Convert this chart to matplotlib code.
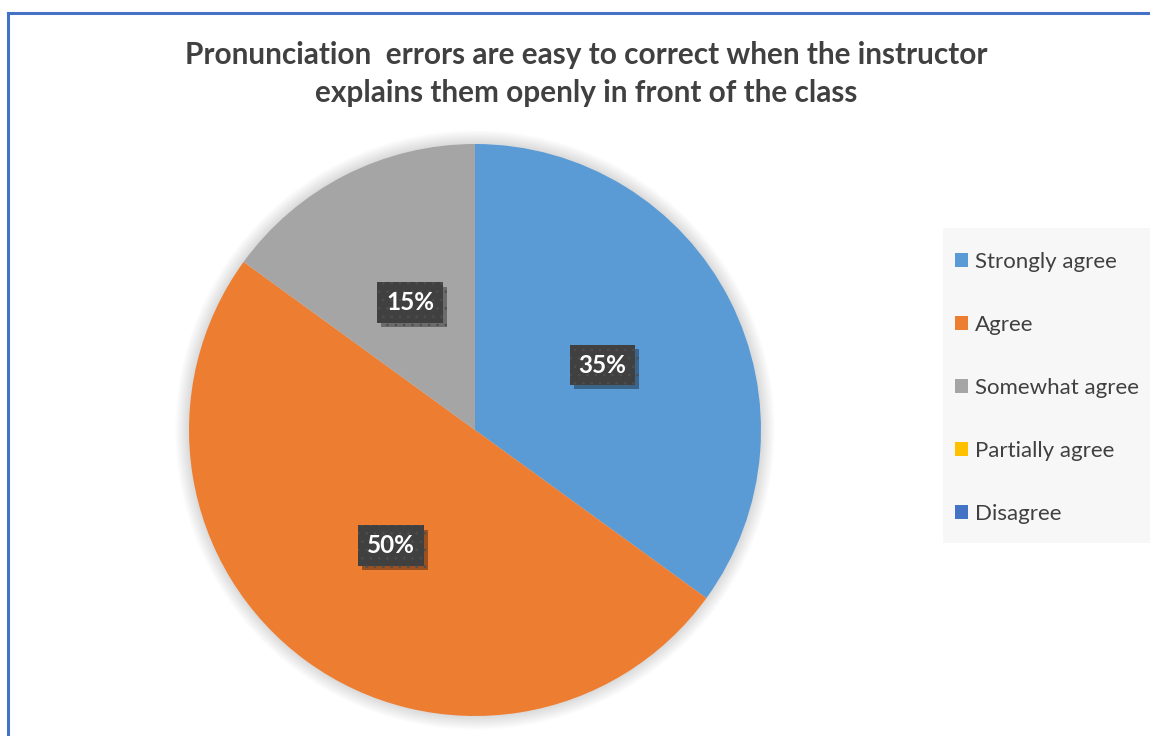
import matplotlib
matplotlib.use("Agg")
import matplotlib.pyplot as plt
from matplotlib.lines import Line2D
from matplotlib.patches import Circle, Rectangle
import matplotlib.patheffects as pe

# Survey responses (share of students)
categories = ["Strongly agree", "Agree", "Somewhat agree", "Partially agree", "Disagree"]
shares = [35, 50, 15, 0, 0]
colors = ["#5B9BD5", "#ED7D31", "#A5A5A5", "#FFC000", "#4472C4"]
title = ("Pronunciation  errors are easy to correct when the instructor\n"
         "explains them openly in front of the class")

plt.rcParams["font.family"] = ["Lato", "DejaVu Sans"]
plt.rcParams["hatch.linewidth"] = 0.6

W, H = 1150, 736
fig = plt.figure(figsize=(W / 100, H / 100), dpi=100)
fig.patch.set_facecolor("white")

# pie axes: centre (475, 430) px, radius 286 px, limits +-1.1
cx, cy, r = 475, 430, 286
half = r * 1.1
ax = fig.add_axes([(cx - half) / W, (H - cy - half) / H, 2 * half / W, 2 * half / H])
ax.axis("off")

# soft glow around the pie
for i in range(12):
    ax.add_patch(Circle((0, 0), 1.0 + 0.004 * (i + 1), color="black",
                        alpha=0.012, lw=0, zorder=0))


def pct_label(p):
    return f"{p:.0f}%" if p > 0.5 else ""


wedges, texts, autotexts = ax.pie(
    shares, colors=colors, startangle=90, counterclock=False,
    autopct=pct_label, pctdistance=0.5, radius=1.0,
    wedgeprops=dict(linewidth=0),
)
ax.set_xlim(-1.1, 1.1)
ax.set_ylim(-1.1, 1.1)
ax.set_aspect("equal")
for w in wedges:
    w.set_zorder(2)

for t in autotexts:
    t.set_color("white")
    t.set_fontsize(17.5)
    t.set_fontweight("bold")
    t.set_zorder(5)
    t.set_bbox(dict(boxstyle="square,pad=0.36", facecolor="#404040",
                    edgecolor="#4E4E4E", linewidth=0, hatch=".."))
    patch = t.get_bbox_patch()
    if patch is not None:
        patch.set_path_effects([
            pe.SimplePatchShadow(offset=(3, -3), shadow_rgbFace="black", alpha=0.35),
            pe.Normal(),
        ])

fig.text(586 / W, 1 - 74 / H, title, ha="center", va="center",
         fontsize=21.4, fontweight="bold", color="#404040", linespacing=1.45)

# legend panel
fig.add_artist(Rectangle((943 / W, 1 - 543 / H), (W - 943) / W, 315 / H,
                         facecolor="#F7F7F7", edgecolor="none",
                         transform=fig.transFigure, zorder=0))
handles = [plt.Rectangle((0, 0), 1, 1, facecolor=c, edgecolor="none") for c in colors]
leg = fig.legend(handles, categories, loc="upper left",
                 bbox_to_anchor=(955 / W, 1 - 252 / H),
                 frameon=False, fontsize=16, labelcolor="#404040",
                 handlelength=0.6, handleheight=0.6, handletextpad=0.3,
                 labelspacing=1.93, borderpad=0, borderaxespad=0)

# chart-area border (left and top edges)
border = "#4472C4"
fig.add_artist(Line2D([8 / W, 8 / W], [0, 1 - 13 / H], color=border, lw=2.2,
                      transform=fig.transFigure))
fig.add_artist(Line2D([8 / W, 1], [1 - 13 / H, 1 - 13 / H], color=border, lw=2.2,
                      transform=fig.transFigure))

fig.savefig("out.png", dpi=100)
